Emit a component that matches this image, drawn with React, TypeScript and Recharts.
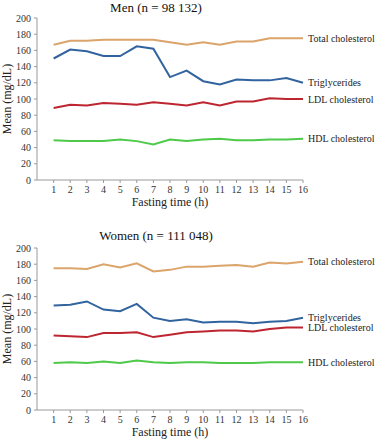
import { Label, LabelList, Line, LineChart, XAxis, YAxis } from "recharts";

const HOURS = [1, 2, 3, 4, 5, 6, 7, 8, 9, 10, 11, 12, 13, 14, 15, 16];
const Y_TICKS = [0, 20, 40, 60, 80, 100, 120, 140, 160, 180, 200];

const menTotal = [167, 172, 172, 173, 173, 173, 173, 170, 167, 170, 167, 171, 171, 175, 175, 175];
const menTrig = [150, 161, 159, 153, 153, 165, 162, 127, 135, 122, 118, 124, 123, 123, 126, 120];
const menLdl = [89, 93, 92, 95, 94, 93, 96, 94, 92, 96, 92, 97, 97, 101, 100, 100];
const menHdl = [49, 48, 48, 48, 50, 48, 44, 50, 48, 50, 51, 49, 49, 50, 50, 51];

const womenTotal = [175, 175, 174, 180, 176, 181, 171, 173, 177, 177, 178, 179, 177, 182, 181, 183];
const womenTrig = [129, 130, 134, 124, 122, 131, 114, 110, 112, 108, 109, 109, 107, 109, 110, 114];
const womenLdl = [92, 91, 90, 95, 95, 96, 90, 93, 96, 97, 98, 98, 97, 100, 102, 102];
const womenHdl = [58, 59, 58, 60, 58, 61, 59, 58, 59, 59, 58, 58, 58, 59, 59, 59];

const SERIES = [
  { key: "total", label: "Total cholesterol", color: "#dba46a" },
  { key: "trig", label: "Triglycerides", color: "#31649e" },
  { key: "ldl", label: "LDL cholesterol", color: "#bd2530" },
  { key: "hdl", label: "HDL cholesterol", color: "#4ec94a" },
];

const FONT = "Liberation Serif";
const AXIS_INK = "#9a9a9a";

function build(total: number[], trig: number[], ldl: number[], hdl: number[]) {
  return HOURS.map((h, i) => ({ h, total: total[i], trig: trig[i], ldl: ldl[i], hdl: hdl[i] }));
}

function XTick({ x, y, payload }: any) {
  return (
    <text x={x} y={y + 8} textAnchor="middle" fontSize={10} fill="#333" fontFamily={FONT}>
      {payload.value}
    </text>
  );
}

function YTick({ x, y, payload }: any) {
  return (
    <text x={x - 1} y={y} dy="0.35em" textAnchor="end" fontSize={10} fill="#333" fontFamily={FONT}>
      {payload.value}
    </text>
  );
}

function EndLabel(props: any) {
  const { x, y, index, value } = props;
  if (index !== HOURS.length - 1) return null;
  return (
    <text x={x + 5} y={y} dy="0.35em" fontSize={10} fill="#222" fontFamily={FONT}>
      {value}
    </text>
  );
}

function XTitle({ viewBox }: any) {
  return (
    <text x={viewBox.x + viewBox.width / 2} y={viewBox.y + 22} textAnchor="middle" dominantBaseline="central"
      fontSize={12} fill="#222" fontFamily={FONT}>
      Fasting time (h)
    </text>
  );
}

function YTitle({ viewBox }: any) {
  const cx = 7;
  const cy = viewBox.y + viewBox.height / 2;
  return (
    <text x={cx} y={cy} transform={`rotate(-90 ${cx} ${cy})`} textAnchor="middle" dominantBaseline="central"
      fontSize={12} fill="#222" fontFamily={FONT}>
      Mean (mg/dL)
    </text>
  );
}

function Panel({ title, titleTop, data, top, height, marginTop }: {
  title: string;
  titleTop: number;
  data: Record<string, number>[];
  top: number;
  height: number;
  marginTop: number;
}) {
  return (
    <div style={{ position: "absolute", left: 0, top, width: 376, height, fontFamily: FONT }}>
      <div style={{
        position: "absolute", left: 0, width: 312, top: titleTop, textAlign: "center",
        fontSize: 13, color: "#111", lineHeight: "15px",
      }}>
        {title}
      </div>
      <LineChart width={376} height={height} data={data}
        margin={{ top: marginTop, right: 73, bottom: 5, left: 0 }}>
        <XAxis dataKey="h" type="number" domain={[0, 16]} ticks={HOURS} interval={0}
          tick={<XTick />} tickSize={3} stroke={AXIS_INK} height={height - marginTop - 5 - 162}>
          <Label content={<XTitle />} />
        </XAxis>
        <YAxis domain={[0, 200]} ticks={Y_TICKS} interval={0} tick={<YTick />} tickSize={3}
          stroke={AXIS_INK} width={37}>
          <Label content={<YTitle />} />
        </YAxis>
        {SERIES.map((s) => (
          <Line key={s.key} dataKey={s.key} name={s.label} stroke={s.color} strokeWidth={2}
            dot={false} isAnimationActive={false}>
            <LabelList dataKey={s.key} content={(p: any) => <EndLabel {...p} value={s.label} />} />
          </Line>
        ))}
      </LineChart>
    </div>
  );
}

export default function App() {
  return (
    <div style={{ position: "absolute", left: 0, top: 0, width: 376, height: 440, background: "#fff", fontFamily: FONT }}>
      <Panel title="Men (n = 98 132)" titleTop={0} data={build(menTotal, menTrig, menLdl, menHdl)}
        top={0} height={215} marginTop={18} />
      <Panel title="Women (n = 111 048)" titleTop={8} data={build(womenTotal, womenTrig, womenLdl, womenHdl)}
        top={220} height={220} marginTop={28} />
    </div>
  );
}
